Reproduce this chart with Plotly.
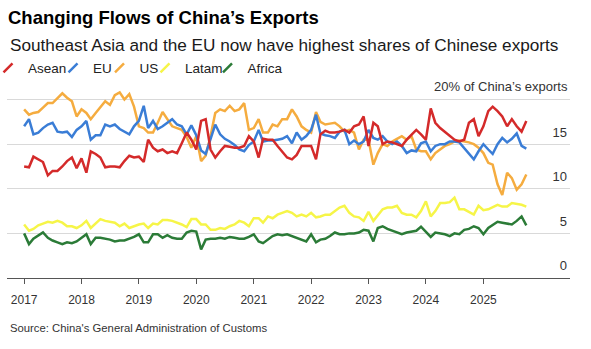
import pandas as pd
import plotly.graph_objects as go

# Monthly data, Jan 2017 - Oct 2025 (share of China's exports, %)
months = pd.date_range("2017-01-01", periods=106, freq="MS")

asean = [
    12.5, 12.4, 13.6, 13.3, 13.0, 11.5, 12.0, 12.0, 12.5, 13.1, 13.5, 12.3,
    13.4, 11.8, 14.2, 13.9, 13.5, 12.4, 12.5, 12.5, 12.4, 13.1, 13.7, 13.5,
    13.6, 13.0, 15.5, 14.6, 14.2, 14.4, 14.0, 14.2, 14.0, 15.1, 16.3, 15.5,
    14.4, 17.6, 17.8, 14.4, 13.5, 14.2, 14.8, 14.7, 14.6, 14.6, 14.8, 15.9,
    15.3, 13.5, 15.6, 15.5, 15.5, 14.8, 14.2, 13.5, 13.3, 13.8, 14.8, 14.8,
    14.8, 13.3, 16.1, 16.5, 16.3, 16.3, 16.4, 16.6, 16.3, 17.0, 17.2, 18.1,
    14.8, 17.4, 17.0, 15.0, 15.3, 15.2, 15.0, 14.8, 15.5, 16.1, 16.6, 16.1,
    15.5, 19.0, 17.4, 16.8, 16.4, 16.0, 15.5, 15.3, 15.5, 17.4, 17.8, 15.9,
    17.0, 18.7, 19.2, 18.7, 18.1, 17.0, 17.8, 17.0, 16.4, 17.6,
]
eu = [
    17.0, 17.8, 16.1, 16.3, 16.8, 17.2, 17.4, 16.4, 16.3, 16.4, 15.8, 16.6,
    17.0, 17.6, 15.5, 16.0, 16.0, 17.2, 17.0, 17.2, 16.7, 16.4, 16.1, 17.0,
    17.6, 19.3, 16.8, 17.6, 16.7, 17.0, 17.4, 17.8, 17.2, 17.0, 16.1, 17.1,
    16.0, 14.3, 13.9, 15.5, 17.2, 16.1, 15.6, 15.3, 14.9, 14.4, 14.2, 14.9,
    15.3, 16.6, 15.3, 15.4, 15.4, 15.5, 15.6, 15.9, 15.1, 16.3, 15.5, 15.9,
    16.6, 18.3, 16.2, 16.0, 15.9, 15.7, 16.4, 16.6, 15.0, 15.4, 15.0, 15.3,
    16.6, 15.7, 15.5, 15.9, 15.3, 15.0, 15.3, 14.8, 14.0, 14.3, 14.2, 15.1,
    15.3, 14.2, 14.8, 15.0, 15.0, 15.3, 15.3, 15.2, 14.6, 14.0, 13.3, 14.2,
    15.0, 14.4, 13.9, 15.0, 15.7, 15.2, 15.6, 16.2, 14.8, 14.5,
]
us = [
    18.9, 18.3, 18.5, 18.6, 19.1, 19.6, 19.6, 20.1, 20.7, 20.2, 19.8, 18.1,
    18.9, 18.5, 17.8, 18.5, 19.2, 19.8, 19.4, 20.5, 20.8, 20.0, 20.6, 19.2,
    17.0, 16.8, 16.3, 16.3, 17.4, 18.6, 17.8, 17.0, 16.8, 16.6, 15.8, 14.6,
    15.9, 13.1, 13.7, 15.9, 18.5, 18.9, 18.7, 19.3, 18.7, 18.9, 19.6, 16.6,
    16.8, 17.8, 16.3, 16.3, 17.2, 17.0, 17.8, 17.8, 18.9, 18.1, 17.0, 16.6,
    16.3, 18.6, 17.5, 17.2, 17.3, 17.4, 17.0, 16.4, 16.6, 16.3, 14.4, 15.5,
    15.5, 12.7, 14.0, 15.0, 14.8, 15.3, 15.6, 15.9, 15.5, 15.9, 14.4, 14.2,
    14.2, 13.3, 14.0, 14.4, 14.8, 15.0, 15.3, 15.4, 15.3, 15.2, 15.0, 14.6,
    14.0, 12.9, 12.7, 10.5, 9.3, 11.8, 11.2, 9.9, 10.5, 11.6,
]
latam = [
    6.0, 5.3, 5.5, 5.9, 6.1, 6.3, 6.2, 6.4, 6.2, 5.8, 5.8, 5.6,
    5.9, 6.4, 5.6, 6.1, 6.6, 6.4, 6.3, 6.2, 5.8, 6.1, 5.6, 5.8,
    6.0, 6.1, 5.6, 6.1, 6.0, 6.5, 6.5, 6.4, 6.2, 6.0, 5.7, 6.6,
    6.6, 6.0, 6.0, 5.4, 5.4, 5.6, 5.5, 5.8, 6.0, 6.4, 6.2, 5.8,
    6.7, 6.7, 6.2, 6.9, 6.7, 7.1, 7.3, 7.5, 7.3, 6.9, 7.1, 6.9,
    7.3, 6.8, 6.9, 7.1, 7.1, 7.5, 7.9, 8.1, 7.3, 6.9, 6.8, 6.4,
    7.4, 6.4, 7.0, 7.7, 7.9, 7.9, 8.1, 7.3, 7.1, 7.1, 6.8, 7.5,
    8.6, 6.9, 7.5, 8.4, 8.4, 8.5, 9.0, 7.7, 7.7, 7.4, 7.1, 8.1,
    7.6, 7.7, 7.9, 8.2, 8.0, 8.0, 8.4, 8.3, 8.2, 8.0,
]
africa = [
    5.0, 3.8, 4.4, 4.8, 5.1, 4.5, 4.2, 4.0, 3.8, 4.0, 3.9, 4.1,
    4.5, 4.9, 3.8, 4.5, 4.5, 4.4, 4.3, 4.1, 4.2, 4.2, 4.4, 4.6,
    4.9, 4.0, 4.0, 4.9, 4.9, 4.5, 4.8, 4.5, 4.4, 4.4, 5.1, 5.3,
    5.2, 3.2, 4.3, 4.4, 4.4, 4.5, 4.4, 4.6, 4.5, 4.4, 4.4, 4.6,
    4.9, 4.1, 3.9, 4.3, 4.7, 4.9, 4.8, 4.9, 4.7, 4.5, 4.3, 4.1,
    4.9, 4.0, 4.3, 4.4, 4.7, 5.1, 4.9, 4.9, 5.0, 5.0, 5.1, 5.4,
    5.3, 4.1, 5.6, 5.8, 5.5, 5.3, 5.1, 4.9, 5.1, 5.2, 5.3, 5.75,
    5.15, 4.6, 5.1, 5.0, 4.9, 4.7, 5.0, 4.9, 5.4, 5.5, 5.8, 5.6,
    4.9, 5.6, 5.9, 6.3, 6.2, 6.1, 6.0, 6.4, 6.9, 5.9,
]

series_names = ["Asean", "EU", "US", "Latam", "Africa"]
series_values = [asean, eu, us, latam, africa]
colors = ["#d42a2a", "#3a7dd6", "#f5ac3f", "#f6f548", "#2b7b37"]
legend_widths = [20, 1.5, 0.5, 17.5, 30]

year_ticks = [f"{y}-01-01" for y in range(2017, 2026)]
year_labels = [str(y) for y in range(2017, 2026)]
y_ticks = [0, 5, 10, 15, 20]
y_labels = ["0", "5", "10", "15", ""]
y_unit_label = "20% of China’s exports"

FONT = "Liberation Sans, Arial, Helvetica, sans-serif"

fig = go.Figure()

# draw order: Africa, Latam, US, EU, Asean (Asean on top)
for i in [4, 3, 2, 1, 0]:
    fig.add_trace(go.Scatter(
        x=months, y=series_values[i], mode="lines", name=series_names[i],
        line=dict(color=colors[i], width=2.5), showlegend=False,
        hoverinfo="skip",
    ))

for name, col, lw in zip(series_names, colors, legend_widths):
    fig.add_trace(go.Scatter(
        x=[None], y=[None], mode="markers", name=name,
        marker=dict(symbol="line-ne", size=9, color=col,
                    line=dict(color=col, width=2.5)),
        legendwidth=lw, hoverinfo="skip",
    ))

W, H = 591, 349
ml, mr, mt, mb = 7, 21, 75, 71
ph = H - mt - mb
y0px = H - mb
YMAX = 22.75


def py(p):
    return (y0px - p) / ph


def px(p):
    return (p - ml) / (W - ml - mr)


fig.update_layout(
    width=W, height=H,
    margin=dict(l=ml, r=mr, t=mt, b=mb, pad=0, autoexpand=False),
    paper_bgcolor="white", plot_bgcolor="white",
    font=dict(family=FONT, color="#333333"),
    title=dict(
        text="Changing Flows of China’s Exports",
        font=dict(family=FONT, size=18.5, color="#000000", weight="bold"),
        x=8 / W, xanchor="left", xref="container",
        y=1 - 18 / H, yanchor="middle", yref="container",
    ),
    showlegend=True,
    legend=dict(
        orientation="h", x=px(-12), xanchor="left",
        y=py(68), yanchor="middle",
        font=dict(family=FONT, size=13.5, color="#222222"),
        bgcolor="rgba(0,0,0,0)", itemwidth=30, traceorder="normal",
        itemclick=False, itemdoubleclick=False,
    ),
    xaxis=dict(
        type="date", range=["2016-09-14", "2026-07-06"],
        tickvals=year_ticks, ticktext=year_labels,
        showgrid=False, zeroline=False,
        showline=True, linecolor="#555555", linewidth=1,
        ticks="outside", ticklen=5, tickcolor="#555555", tickwidth=1,
        tickfont=dict(family=FONT, size=12, color="#333333"),
        ticklabelstandoff=6,
        fixedrange=True,
    ),
    yaxis=dict(
        range=[0, YMAX], side="right",
        tickvals=y_ticks, ticktext=y_labels,
        ticklabelposition="inside top", ticklabelshift=-3,
        showgrid=True, gridcolor="#d9d9d9", gridwidth=1,
        zeroline=False, showline=False, ticks="",
        tickfont=dict(family=FONT, size=13, color="#333333"),
        fixedrange=True,
    ),
    annotations=[
        dict(
            text="Southeast Asia and the EU now have highest shares of Chinese exports",
            xref="paper", yref="paper", x=px(8), y=py(45),
            xanchor="left", yanchor="middle", showarrow=False,
            font=dict(family=FONT, size=17.2, color="#1a1a1a"),
        ),
        dict(
            text=y_unit_label,
            xref="paper", yref="y", x=1.0, y=y_ticks[-1],
            xanchor="right", yanchor="bottom", yshift=4, showarrow=False,
            font=dict(family=FONT, size=13, color="#333333"),
        ),
        dict(
            text="Source: China's General Administration of Customs",
            xref="paper", yref="paper", x=px(8), y=py(328),
            xanchor="left", yanchor="middle", showarrow=False,
            font=dict(family=FONT, size=11.3, color="#333333"),
        ),
    ],
)

fig.write_html("out.html", include_plotlyjs=True, config={"displayModeBar": False})
